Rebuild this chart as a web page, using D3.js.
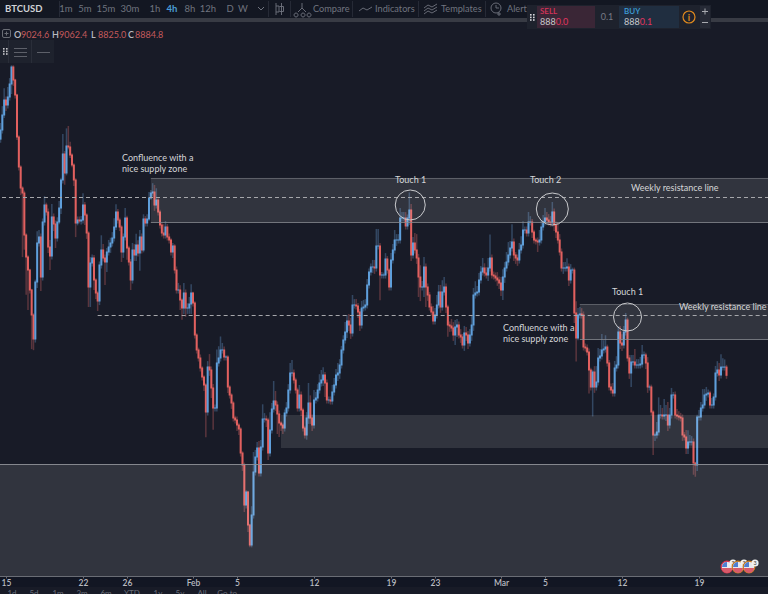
<!DOCTYPE html>
<html><head><meta charset="utf-8">
<script src="https://d3js.org/d3.v7.min.js"></script>
<style>
html,body{margin:0;padding:0;background:#181b27;overflow:hidden}
svg{display:block}
text{font-family:Lato,"Open Sans",sans-serif}
</style></head><body><svg id="c" width="768" height="594"></svg>
<script>
const closes=[
13055,13310,13565,13480,13616,13837,14126,13905,13650,12936,
12426,12069,11984,11270,10896,10675,10335,9910,9502,10471,
11134,11236,10556,11491,11780,11661,11066,10913,11576,11457,
11219,11491,11729,12205,12647,12324,12783,12766,12630,12460,
12205,11474,11525,11508,11525,11780,11610,11304,10386,10794,
10879,10505,10284,10148,10760,11015,10879,10811,10981,11066,
11134,11219,11406,11661,11525,11406,10981,11236,11559,11049,
10811,10505,11015,10930,11100,10964,11236,11015,11542,11474,
11542,11899,11984,12001,11780,11865,11661,11440,11304,11270,
11406,11236,11185,10981,11083,10675,10335,10335,10165,10029,
10284,10029,10029,10097,10284,10114,9570,9315,9179,9009,
8856,8720,8261,9026,8975,8669,8329,8329,9094,9179,
9315,9315,9196,9196,8686,8550,8414,8159,8125,8040,
7972,7564,7360,6680,6901,6340,6000,6510,7241,7496,
7649,7224,7666,8142,8142,8125,7564,7955,8312,8448,
8380,8227,8074,8040,7989,8244,8329,8635,8924,8924,
8805,8635,8329,8550,8295,7989,7870,8159,8414,8159,
8040,8465,8499,8635,8754,8805,8890,8754,8465,8465,
8448,8601,8720,8890,8924,9060,9315,9485,9621,9808,
9740,9604,10080,10080,10063,9961,9740,10029,10046,10080,
10420,10641,10726,10726,10709,11083,11083,10590,10590,10590,
10862,10675,10386,10845,11015,11185,11185,11185,11559,11559,
11559,11423,11559,11695,10930,11134,11015,10879,10556,10386,
10386,10726,10386,10250,10046,9961,9808,9910,10080,10301,
10046,10301,10386,10046,9740,9723,9689,9570,9706,9740,
9570,9536,9400,9604,9570,9434,9570,9740,10250,10284,
10301,10505,10641,10709,10624,10590,10709,10879,10590,10573,
10539,10505,10454,10335,10556,10709,10811,10930,11049,11151,
10930,10879,10845,11015,11100,11355,11355,11304,11491,11491,
11321,11185,11168,11151,11185,11406,11491,11559,11525,11491,
11474,11661,11440,11321,11185,10981,10709,10709,10709,10726,
10505,10675,10675,9944,9519,9910,9927,9910,9366,9349,
9281,8975,8686,8941,8686,8771,9179,9213,9315,9332,
9366,9094,8686,8635,8584,9009,9060,9621,9434,9400,
9621,9825,9179,8924,9111,9111,9060,9060,9060,9077,
9230,9230,9094,8686,8686,8261,7870,7870,7921,8210,
8210,8193,8210,8210,8040,8210,8550,8550,8210,8193,
8176,8159,7870,7836,7649,7751,7751,7751,7394,7360,
8176,8176,8329,8380,8550,8567,8584,8380,8380,8516,
8924,8975,8890,9024.6,9024.6,9024.6,8884.8];
const upperWicks=[
120,150,200,60,170,100,30,30,20,20,
30,30,30,40,30,30,20,20,30,40,
200,120,60,60,150,40,60,120,220,60,
60,80,120,40,340,50,300,340,90,30,
30,30,60,60,70,200,50,30,30,100,
60,50,30,30,60,250,100,60,70,120,
90,100,150,130,50,40,30,60,170,40,
40,50,120,100,190,80,120,60,80,50,
80,100,50,150,120,200,30,40,40,150,
100,50,60,30,50,30,60,120,80,30,
170,60,80,120,150,20,30,30,40,60,
30,30,30,100,220,60,70,60,230,200,
230,120,60,30,30,30,30,30,40,60,
40,30,30,40,30,20,20,150,340,120,
100,120,120,250,100,60,40,300,100,340,
170,60,60,30,40,60,100,100,170,220,
60,40,40,170,60,40,40,100,340,130,
60,170,100,100,150,170,130,50,60,60,
60,120,120,100,170,100,70,80,170,100,
120,120,170,100,100,50,50,120,120,100,
100,60,60,120,120,290,290,50,50,40,
100,50,30,120,100,170,100,100,170,100,
100,100,60,300,100,100,170,270,70,200,
100,170,60,60,50,60,100,120,170,120,
120,200,170,60,40,60,120,100,120,100,
60,100,50,120,100,70,100,170,120,200,
100,120,100,170,80,100,170,400,60,60,
60,100,60,100,130,100,170,220,120,300,
60,50,60,120,150,150,60,60,170,100,
50,40,40,60,170,120,120,170,100,100,
100,170,60,60,170,100,60,100,100,150,
60,100,40,40,200,120,120,100,60,60,
60,60,40,40,100,270,170,120,270,150,
200,40,50,60,120,120,150,100,100,150,
100,120,40,50,120,120,220,100,100,120,
170,60,40,100,40,40,30,40,170,300,
170,120,270,170,220,120,120,50,60,100,
80,70,60,50,120,200,120,100,60,20,
40,120,100,270,100,120,60,40,120,60,
120,150,120,220,150,130,37.8];
const lowerWicks=[
60,60,50,100,60,60,170,100,60,50,
60,120,1090,250,640,680,60,580,190,60,
100,60,240,60,60,60,100,240,60,120,
170,60,40,100,60,200,40,40,50,40,
100,240,40,40,60,60,170,100,340,340,
60,170,100,170,70,60,60,390,170,60,
100,60,60,50,60,70,170,100,60,200,
60,170,60,100,100,60,300,60,40,60,
60,30,30,60,100,60,60,60,60,60,
60,60,60,60,100,60,60,60,170,200,
100,150,100,100,170,60,60,60,60,60,
60,100,430,60,100,170,370,60,60,60,
60,60,60,60,100,60,100,60,60,100,
100,60,100,120,60,120,40,40,60,60,
60,60,60,60,60,120,120,60,60,60,
100,340,240,100,100,60,60,60,60,60,
60,60,60,60,100,60,60,80,100,100,
100,60,60,60,60,60,100,240,60,60,
60,60,60,60,100,100,60,60,60,100,
100,100,60,60,60,100,100,60,60,60,
60,60,60,100,100,60,60,430,60,60,
60,60,60,60,60,60,100,60,60,60,
60,60,60,120,100,60,60,100,340,240,
60,170,340,100,60,60,60,60,60,60,
100,60,60,100,200,100,60,100,170,170,
60,100,60,100,100,100,60,100,100,60,
60,60,60,60,60,60,100,60,60,60,
60,100,100,100,170,100,60,60,60,60,
100,100,100,60,60,60,60,60,60,60,
100,60,60,170,60,60,60,60,60,60,
60,60,100,100,60,60,60,100,60,60,
100,60,60,170,400,40,60,60,60,60,
60,400,60,500,100,60,60,60,60,60,
60,60,60,60,60,60,60,60,100,100,
60,60,60,100,240,60,60,60,60,60,
60,60,100,100,60,60,340,100,60,60,
60,60,60,100,100,60,60,60,60,60,
60,60,100,60,100,100,60,60,200,200,
100,60,60,60,60,100,60,60,60,60,
60,60,100,60,60,60,59.8];
const firstOpen=12900;
const tickDates=["2018-01-15","2018-01-22","2018-01-26","2018-02-01","2018-02-05","2018-02-12","2018-02-19","2018-02-23","2018-03-01","2018-03-05","2018-03-12","2018-03-19"];
const tickLabels=["15","22","26","Feb","5","12","19","23","Mar","5","12","19"];
const zones=[
 {from:"2018-01-28T04:00Z",hi:12241,lo:11491,border:true},
 {from:"2018-03-08T04:00Z",hi:10095,lo:9502,border:true},
 {from:"2018-02-09T00:00Z",hi:8210,lo:7649,border:false},
 {from:"2018-01-14T00:00Z",hi:7377,lo:5470,border:true}];
const resistance=[{from:"2018-01-14T00:00Z",price:11916},{from:"2018-01-23T08:00Z",price:9910}];
const touches=[{label:"Touch 1",t:"2018-02-20T18:00Z",p:11780,r:15,lx:395,ly:183},{label:"Touch 2",t:"2018-03-05T16:00Z",p:11712,r:16,lx:530,ly:183},{label:"Touch 1",t:"2018-03-12T12:00Z",p:9876,r:14,lx:612,ly:295}];
const notes=[
 {lines:["Confluence with a","nice supply zone"],x:122,y:161},
 {lines:["Weekly resistance line"],x:631,y:191},
 {lines:["Weekly resistance line"],x:679,y:310},
 {lines:["Confluence with a","nice supply zone"],x:503,y:331}];
const intervals=[["1m",66],["5m",85],["15m",106],["30m",130],["1h",155],["4h",172],["8h",190],["12h",208],["D",230],["W",243]];
const ohlc=[["O","9024.6",14],["H","9062.4",52],["L","8825.0",91],["C","8884.8",128]];
const ranges=[["1d",12],["5d",34],["1m",58],["3m",82],["6m",106],["YTD",132],["1y",158],["5y",180],["All",202],["Go to...",230]];

const svg=d3.select("#c");
const W=768,H=594,axisY=576;
const parse=s=>new Date(s.length===10?s+"T00:00Z":s);
const x=d3.scaleUtc().domain([parse("2018-01-15"),parse("2018-03-19")]).range([6,699]);
const y=d3.scaleLinear().domain([6000,14126]).range([545,67]);
const crisp=v=>Math.round(v)+.5;
const t0=parse("2018-01-15").getTime();
const bars=closes.map((c,i)=>{const o=i?closes[i-1]:firstOpen;return{t:new Date(t0+(i-3)*4*3600e3),o,c,h:Math.max(o,c)+upperWicks[i],l:Math.min(o,c)-lowerWicks[i]}});
const RED="#e2605f",BLUE="#5f9fdb";
svg.append("rect").attr("width",W).attr("height",H).attr("fill","#181b27");
svg.append("defs").append("clipPath").attr("id","pl").append("rect").attr("x",0).attr("y",22).attr("width",W).attr("height",axisY-22);
const plot=svg.append("g").attr("clip-path","url(#pl)");
// candles
const cg=plot.append("g");
cg.selectAll("line").data(bars).join("line").attr("x1",d=>x(d.t)).attr("x2",d=>x(d.t)).attr("y1",d=>y(d.h)).attr("y2",d=>y(d.l))
 .attr("stroke",d=>d.c>=d.o?"#5a86b4":"#b85a5e").attr("stroke-width",1.5).attr("stroke-opacity",.42);
cg.selectAll("rect").data(bars).join("rect").attr("x",d=>x(d.t)-1).attr("width",2).attr("y",d=>y(Math.max(d.o,d.c))-.5).attr("height",d=>Math.abs(y(d.o)-y(d.c))+1)
 .attr("fill",d=>d.c>=d.o?BLUE:RED);
// zones
zones.forEach(z=>{
 const zx=x(parse(z.from)),t=y(z.hi),b=y(z.lo);
 plot.append("rect").attr("x",zx).attr("y",t).attr("width",W-zx).attr("height",b-t).attr("fill","#fff").attr("fill-opacity",.11);
 if(z.border){
  plot.append("line").attr("x1",zx).attr("x2",W).attr("y1",crisp(t)).attr("y2",crisp(t)).attr("stroke","#8a8c92").attr("stroke-opacity",z.lo<6000?.95:.5);
  if(z.lo>6000)plot.append("line").attr("x1",zx).attr("x2",W).attr("y1",crisp(b)).attr("y2",crisp(b)).attr("stroke","#8a8c92").attr("stroke-opacity",.8);
 }
});
// resistance
resistance.forEach(r=>{plot.append("line").attr("x1",x(parse(r.from))).attr("x2",W).attr("y1",crisp(y(r.price))).attr("y2",crisp(y(r.price))).attr("stroke","#a6a7ab").attr("stroke-width",1).attr("stroke-dasharray","4 3")});
// touches
touches.forEach(t=>{
 plot.append("circle").attr("cx",x(parse(t.t))).attr("cy",y(t.p)).attr("r",t.r).attr("fill","none").attr("stroke","#c9cacd").attr("stroke-width",1);
 svg.append("text").attr("x",t.lx).attr("y",t.ly).attr("fill","#d5d6d8").attr("font-size",9).text(t.label);
});
notes.forEach(n=>n.lines.forEach((l,i)=>svg.append("text").attr("x",n.x).attr("y",n.y+i*11).attr("fill","#d5d6d8").attr("font-size",9).text(l)));
// axis
svg.append("rect").attr("y",axisY).attr("width",W).attr("height",H-axisY).attr("fill","#121623");
svg.append("rect").attr("y",587).attr("width",W).attr("height",7).attr("fill","#181b27");
const ax=d3.axisBottom(x).tickValues(tickDates.map(parse)).tickFormat((d,i)=>tickLabels[i]).tickSizeOuter(0).tickSize(2);
const ag=svg.append("g").attr("transform",`translate(0,${axisY+.5})`).call(ax);
ag.select(".domain").attr("stroke","#6a6d75").attr("d",`M0,0H${W}`);
ag.selectAll(".tick line").attr("stroke","#6a6d75");
ag.selectAll(".tick text").attr("fill","#b8bac0").attr("font-size",8.5).attr("font-weight",600).attr("dy",0).attr("y",9).attr("font-family","Roboto,sans-serif");
ranges.forEach(([t,px])=>svg.append("text").attr("x",px).attr("y",595.5).attr("text-anchor","middle").attr("fill","#6a6e79").attr("font-size",8).attr("font-family","Roboto,sans-serif").text(t));
// flags
[[727,"#d8344d"],[738,"#c97a1e"],[749,"#c97a1e"]].forEach(([fx,col])=>{
 const g=svg.append("g");
 g.append("circle").attr("cx",fx).attr("cy",567).attr("r",5.8).attr("fill","#e8e8ee").attr("stroke",col).attr("stroke-width",1.2);
 g.append("path").attr("d",d3.arc()({innerRadius:0,outerRadius:5,startAngle:-Math.PI/2,endAngle:0})).attr("transform",`translate(${fx},567)`).attr("fill","#4f7fd0");
 g.append("path").attr("d",d3.arc()({innerRadius:0,outerRadius:5,startAngle:Math.PI/2,endAngle:Math.PI*1.5})).attr("transform",`translate(${fx},568)`).attr("fill","#d85a6a");
 g.append("circle").attr("cx",fx+6).attr("cy",563).attr("r",3.6).attr("fill","#f2f2f2");
 g.append("text").attr("x",fx+6).attr("y",565).attr("text-anchor","middle").attr("font-size",5.5).attr("fill","#444").text("3");
});
// top bar
svg.append("rect").attr("width",W).attr("height",18).attr("fill","#131722");
svg.append("rect").attr("y",18).attr("width",W).attr("height",4).attr("fill","#383b44");
[59,268,290,352,418,485].forEach(px=>svg.append("line").attr("x1",px+.5).attr("x2",px+.5).attr("y1",1).attr("y2",17).attr("stroke","#262a36"));
const tf="Roboto,sans-serif";
svg.append("text").attr("x",5).attr("y",11.5).attr("fill","#d0d2d6").attr("font-size",9.5).attr("font-weight",700).attr("font-family",tf).text("BTCUSD");
intervals.forEach(([t,px])=>svg.append("text").attr("x",px).attr("y",11.5).attr("text-anchor","middle").attr("fill",t==="4h"?"#4a9fd8":"#70747f").attr("font-size",9.5).attr("font-weight",t==="4h"?700:400).attr("font-family",tf).text(t));
svg.append("path").attr("d","M258 7l3 3 3-3").attr("fill","none").attr("stroke","#70747f");
svg.append("path").attr("d","M276 3v12M276 6h3v6h-3M281.500 3v12M279.500 6.500h4v5h-4").attr("fill","none").attr("stroke","#70747f").attr("stroke-width",.9);
[["Compare",313],["Indicators",375],["Templates",441],["Alert",507]].forEach(([t,px])=>svg.append("text").attr("x",px).attr("y",11.5).attr("fill","#70747f").attr("font-size",9.2).attr("font-family",tf).text(t));
svg.append("path").attr("d","M296 13a2 2 0 1 0 .1 0M303 13a2 2 0 1 0 .1 0M309 13a2 2 0 1 0 .1 0M298 12l4-4 4 4M302 3v5").attr("fill","none").attr("stroke","#70747f").attr("stroke-width",.9);
svg.append("path").attr("d","M359 11l4-3 4 2 5-3").attr("fill","none").attr("stroke","#70747f").attr("stroke-width",.9);
svg.append("path").attr("d","M424 8l4-3 4 2 5-3M424 11l4-3 4 2 5-3M424 14l4-3 4 2 5-3").attr("fill","none").attr("stroke","#70747f").attr("stroke-width",.9);
svg.append("circle").attr("cx",496).attr("cy",8).attr("r",5).attr("fill","none").attr("stroke","#70747f").attr("stroke-width",.9);
svg.append("path").attr("d","M496 5v3h3M499 12v4M497 14h4").attr("fill","none").attr("stroke","#70747f").attr("stroke-width",.9);
// legend
svg.append("rect").attr("x",2.5).attr("y",29.5).attr("width",8).attr("height",8).attr("rx",1.5).attr("fill","none").attr("stroke","#6a6d75");
svg.append("path").attr("d","M6.500 31.500v4M4.500 33.500h4").attr("stroke","#6a6d75");
ohlc.forEach(([k,v,px])=>{
 svg.append("text").attr("x",px).attr("y",38).attr("fill","#b8bac0").attr("font-size",9).attr("font-weight",600).attr("font-family",tf).text(k);
 svg.append("text").attr("x",px+7).attr("y",38).attr("fill","#c45a5c").attr("font-size",9).attr("font-family",tf).text(v);
});
// tool panel
svg.append("rect").attr("x",0).attr("y",40).attr("width",54).attr("height",23).attr("fill","#1e222d");
[8,31].forEach(px=>svg.append("line").attr("x1",px+.5).attr("x2",px+.5).attr("y1",40).attr("y2",63).attr("stroke","#2a2e39"));
d3.range(3).forEach(r=>[3,6].forEach(c=>svg.append("rect").attr("x",c).attr("y",48+r*2.6).attr("width",1.6).attr("height",1.6).attr("fill","#c8c8cc")));
svg.append("path").attr("d","M14 48.500h13M14 52.500h13M14 56.500h13M37 52.500h13").attr("stroke","#5d6069").attr("fill","none");
// trade widget
svg.append("rect").attr("x",527).attr("y",5).attr("width",184).attr("height",24).attr("fill","#1e222d");
svg.append("rect").attr("x",537).attr("y",6).attr("width",58).attr("height",22).attr("fill","#3a2636");
svg.append("rect").attr("x",619).attr("y",6).attr("width",60).attr("height",22).attr("fill","#202e40");
d3.range(3).forEach(r=>[530,533].forEach(c=>svg.append("rect").attr("x",c).attr("y",14+r*2.6).attr("width",1.6).attr("height",1.6).attr("fill","#d8d8dc")));
svg.append("text").attr("x",540).attr("y",14).attr("fill","#d8345a").attr("font-size",8).attr("font-weight",600).attr("font-family",tf).text("SELL");
svg.append("text").attr("x",540).attr("y",25).attr("font-size",9).attr("font-family",tf).attr("fill","#c8c9cc").html('888<tspan fill="#e0355f">0.0</tspan>');
svg.append("text").attr("x",607).attr("y",20).attr("text-anchor","middle").attr("fill","#787b86").attr("font-size",9).attr("font-family",tf).text("0.1");
svg.append("text").attr("x",624).attr("y",14).attr("fill","#3d9ed8").attr("font-size",8).attr("font-weight",600).attr("font-family",tf).text("BUY");
svg.append("text").attr("x",624).attr("y",25).attr("font-size",9).attr("font-family",tf).attr("fill","#c8c9cc").html('888<tspan fill="#e0355f">0.1</tspan>');
svg.append("circle").attr("cx",689).attr("cy",17).attr("r",6).attr("fill","none").attr("stroke","#e08a1e").attr("stroke-width",1.2);
svg.append("text").attr("x",689).attr("y",20.500).attr("text-anchor","middle").attr("fill","#e08a1e").attr("font-size",9).attr("font-weight",700).attr("font-family",tf).text("i");
svg.append("rect").attr("x",700).attr("y",6).attr("width",10).attr("height",22).attr("fill","#262a36");
svg.append("path").attr("d","M702 11.500h6M705 8.500v6M702 22.500h6").attr("stroke","#a8aab0");
</script></body></html>
